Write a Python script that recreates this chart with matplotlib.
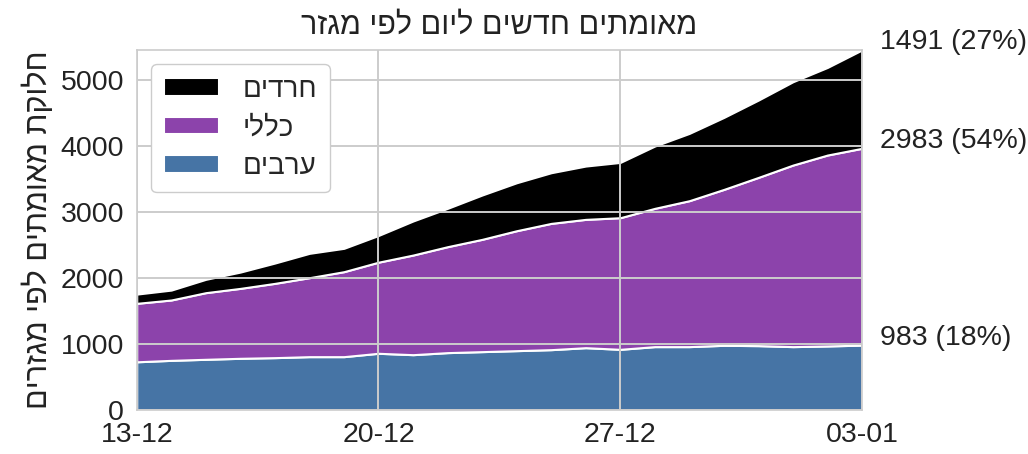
import matplotlib
matplotlib.use('Agg')
import matplotlib.pyplot as plt
import matplotlib.dates as mdates
import seaborn as sns
import pandas as pd

sns.set_style('whitegrid')
plt.rcParams['font.family'] = ['Liberation Sans', 'DejaVu Sans']


def rtl(s):
    # matplotlib has no bidi support, so flip Hebrew for display
    return s[::-1]


dates = pd.date_range('2020-12-13', '2021-01-03', freq='D')
arabs = [730, 752, 768, 783, 793, 808, 808, 859, 838, 869, 884,
         899, 914, 944, 919, 960, 960, 980, 975, 960, 970, 983]
general = [886, 915, 1010, 1060, 1126, 1197, 1288, 1381, 1510, 1606, 1702,
           1818, 1914, 1945, 1995, 2096, 2212, 2363, 2550, 2752, 2894, 2983]
haredim = [140, 150, 202, 247, 308, 369, 354, 405, 516, 581, 672,
           727, 768, 808, 838, 944, 1020, 1091, 1172, 1263, 1328, 1491]
labels = ['ערבים', 'כללי', 'חרדים']
colors = ['#4674a5', '#8c43ab', '#000000']
tick_dates = ['2020-12-13', '2020-12-20', '2020-12-27', '2021-01-03']

fig = plt.figure(figsize=(10.28, 4.54), dpi=100)
ax = fig.add_axes([0.133, 0.097, 0.7055, 0.793])

series = [arabs, general, haredim]
polys = ax.stackplot(dates, *series, labels=[rtl(l) for l in labels],
                     colors=colors, edgecolor='white', linewidth=1.5)

ax.set_axisbelow(False)
ax.grid(True, color='#cccccc', linewidth=1.4)
for s in ax.spines.values():
    s.set_color('#cccccc')
    s.set_linewidth(1.2)

total = [a + g + h for a, g, h in zip(arabs, general, haredim)]
ax.set_xlim(dates[0], dates[-1])
ax.set_ylim(0, total[-1])
ax.set_yticks(range(0, 5001, 1000))
ax.set_xticks(pd.to_datetime(tick_dates))
ax.xaxis.set_major_formatter(mdates.DateFormatter('%d-%m'))
ax.tick_params(axis='both', labelsize=20.5, colors='#222222', length=0)
ax.tick_params(axis='y', pad=9)
ax.tick_params(axis='x', pad=9)

ax.set_title(rtl('מאומתים חדשים ליום לפי מגזר'), fontsize=22, color='#222222', pad=12)
ax.set_ylabel(rtl('חלוקת מאומתים לפי מגזרים'), fontsize=22, color='#222222', labelpad=5)

# last-day values on the right side
cum = 0
for vals in series:
    cum += vals[-1]
    pct = int(100 * vals[-1] / total[-1])
    ax.annotate(f'{vals[-1]} ({pct}%)', xy=(dates[-1], cum), xytext=(13, -4),
                textcoords='offset points', va='bottom', ha='left',
                fontsize=20.5, color='#222222', annotation_clip=False)

handles, leg_labels = ax.get_legend_handles_labels()
leg = ax.legend(handles[::-1], leg_labels[::-1], loc='upper left', fontsize=20,
                handlelength=2.0, handleheight=0.6, borderpad=0.45, labelspacing=0.45,
                handletextpad=0.85, bbox_to_anchor=(0.02, 0.96), framealpha=1,
                borderaxespad=0)
leg.get_frame().set_edgecolor('#cccccc')

fig.savefig('out.png', dpi=100)
